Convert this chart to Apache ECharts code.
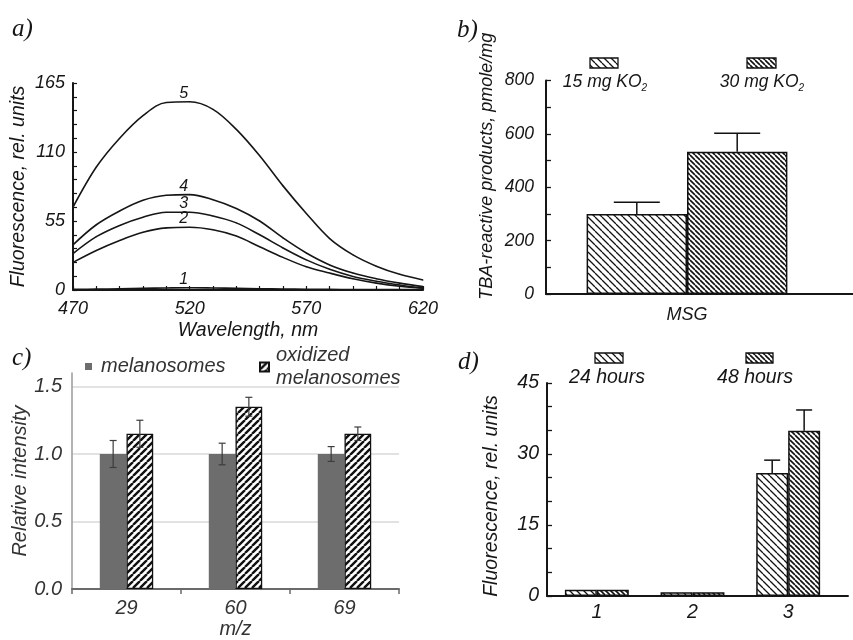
<!DOCTYPE html>
<html><head><meta charset="utf-8">
<script src="https://cdn.jsdelivr.net/npm/echarts@6/dist/echarts.min.js"></script>
<style>html,body{margin:0;padding:0;background:#fff}#c{width:853px;height:640px}</style>
</head><body><div id="c"></div>
<script>
// ---- Panel a: fluorescence spectra ----
const wavelengths = [470,480,490,500,510,520,530,540,550,560,570,580,590,600,610,620];
const curve1 = [0.5,0.7,1.0,1.3,1.6,1.8,1.6,1.3,1.0,0.8,0.6,0.5,0.4,0.3,0.3,0.2];
const curve2 = [22,31.5,39.5,46,49.5,50,48,43,34.5,26,18.5,13.5,9,5.5,3,1.5];
const curve3 = [29,42.5,51.5,58,62,62,59,53.5,44,33.5,24,16.5,10.8,7,4,1.5];
const curve4 = [36,52,63,71.5,75.5,76,72,65,55,41.5,29.5,20,13.5,9,5.5,2.7];
const curve5 = [66,98,121,139,149.5,150,144,128,107,83,61,41,28,19,12.5,8];
const curveNames = ['1','2','3','4','5'];
const curveLabelAt = 520;

// ---- Panel b ----
const msgCategories = ['MSG'];
const ko2_15 = [300];
const ko2_15Err = [44];
const ko2_30 = [533];
const ko2_30Err = [69];

// ---- Panel c ----
const mzCategories = ['29','60','69'];
const melanosomes = [1.0,1.0,1.0];
const melanosomesErr = [0.10,0.08,0.055];
const oxidized = [1.15,1.35,1.15];
const oxidizedErr = [0.10,0.07,0.05];

// ---- Panel d ----
const dCategories = ['1','2','3'];
const hours24 = [1.3,0.8,26.0];
const hours24Err = [0,0,2.7];
const hours48 = [1.3,0.8,34.9];
const hours48Err = [0,0,4.4];

const SANS = "'Liberation Sans', Arial, sans-serif";
const INK = '#161616';

function hatch(size, lw, dir) {
  const cv = document.createElement('canvas');
  cv.width = size; cv.height = size;
  const g = cv.getContext('2d');
  g.fillStyle = '#fff'; g.fillRect(0,0,size,size);
  g.strokeStyle = '#111'; g.lineWidth = lw;
  g.beginPath();
  for (let k=-1;k<=1;k++){
    if (dir === '\\') { g.moveTo(k*size, 0); g.lineTo(k*size+size, size); }
    else { g.moveTo(k*size, size); g.lineTo(k*size+size, 0); }
  }
  g.stroke();
  return {image: cv, repeat: 'repeat'};
}
const patSparse = hatch(7, 1.3, '\\');
const patDense = hatch(5, 1.6, '\\');
const patOx = hatch(7, 2.4, '/');

function errRenderer(offsetFrac, capW, both, color, lw) {
  return function(params, api) {
    const cat = api.value(0), v = api.value(1), e = api.value(2), side = api.value(3);
    if (!e) return null;
    const band = api.size([1, 0])[0];
    const cx = api.coord([cat, v])[0] + side * offsetFrac * band;
    const yBar = api.coord([cat, v])[1];
    const yTop = api.coord([cat, v + e])[1];
    const yBot = both ? api.coord([cat, v - e])[1] : yBar;
    const st = {stroke: color, lineWidth: lw};
    const ch = [
      {type:'line', shape:{x1:cx,y1:yBot,x2:cx,y2:yTop}, style:st},
      {type:'line', shape:{x1:cx-capW/2,y1:yTop,x2:cx+capW/2,y2:yTop}, style:st}
    ];
    if (both) ch.push({type:'line', shape:{x1:cx-capW/2,y1:yBot,x2:cx+capW/2,y2:yBot}, style:st});
    return {type:'group', children: ch};
  };
}

function lineSeries(values, name) {
  return {
    type:'line', name:'curve ' + name, xAxisIndex:0, yAxisIndex:0,
    smooth:0.35, symbol:'circle', symbolSize:1, showSymbol:true,
    itemStyle:{color:INK}, lineStyle:{color:INK, width:1.6},
    label:{show:false},
    data: wavelengths.map((w,i) => w === curveLabelAt
      ? {value:[w, values[i]], label:{show:true, formatter:name, position:'top', distance:0, offset:[-6,0],
          fontSize:16, fontStyle:'italic', fontFamily:SANS, color:INK}}
      : [w, values[i]])
  };
}

const labelStyle = (size, color) => ({fontSize:size, fontStyle:'italic', fontFamily:SANS, color:color||INK});

const option = {
  animation:false,
  backgroundColor:'#fff',
  grid:[
    {left:73, top:83, width:350, height:207},      // 0 a
    {left:546, top:80.5, width:282, height:213.5}, // 1 b bars
    {left:546, top:80.5, width:307, height:213.5}, // 2 b axis
    {left:72, top:373, width:327, height:222},     // 3 c
    {left:549, top:383, width:287, height:213},    // 4 d bars
    {left:547, top:383, width:301, height:213}     // 5 d axis
  ],
  xAxis:[
    {gridIndex:0, type:'value', min:470, max:620, interval:10,
      name:'Wavelength, nm', nameLocation:'middle', nameGap:31, nameTextStyle:labelStyle(19.5),
      axisLine:{lineStyle:{color:INK, width:2}}, axisTick:{inside:true, length:4, lineStyle:{color:INK, width:1.2}},
      axisLabel:Object.assign({margin:10, formatter:v => ((v-470)%50===0 ? String(v) : '')}, labelStyle(18)),
      splitLine:{show:false}},
    {gridIndex:1, type:'category', data:msgCategories,
      axisLine:{show:false}, axisTick:{show:false},
      axisLabel:Object.assign({margin:12}, labelStyle(18))},
    {gridIndex:2, type:'value', min:0, max:1,
      axisLine:{show:true, lineStyle:{color:INK, width:2}}, axisTick:{show:false}, axisLabel:{show:false}, splitLine:{show:false}},
    {gridIndex:3, type:'category', data:mzCategories,
      name:'m/z', nameLocation:'middle', nameGap:30, nameTextStyle:labelStyle(20,'#333'),
      axisLine:{lineStyle:{color:'#6a6a6a', width:2}}, axisTick:{show:true, length:5, lineStyle:{color:'#6a6a6a', width:1.5}},
      axisLabel:Object.assign({margin:9}, labelStyle(20,'#333'))},
    {gridIndex:4, type:'category', data:dCategories,
      axisLine:{show:false}, axisTick:{show:false},
      axisLabel:Object.assign({margin:7}, labelStyle(19.5))},
    {gridIndex:5, type:'value', min:0, max:1,
      axisLine:{show:true, lineStyle:{color:INK, width:2}}, axisTick:{show:false}, axisLabel:{show:false}, splitLine:{show:false}}
  ],
  yAxis:[
    {gridIndex:0, type:'value', min:0, max:165, interval:11,
      name:'Fluorescence, rel. units', nameLocation:'middle', nameGap:44, nameTextStyle:labelStyle(19.5),
      axisLine:{show:true, lineStyle:{color:INK, width:2}}, axisTick:{show:true, inside:true, length:4, lineStyle:{color:INK, width:1.2}},
      axisLabel:Object.assign({margin:8, formatter:v => (v%55===0 ? String(v) : '')}, labelStyle(18)),
      splitLine:{show:false}},
    {gridIndex:1, type:'value', min:0, max:800, interval:100,
      name:'TBA-reactive products, pmole/mg', nameLocation:'middle', nameGap:50,
      nameTextStyle:Object.assign({padding:[0,0,0,42]}, labelStyle(18)),
      axisLine:{show:true, lineStyle:{color:INK, width:2}}, axisTick:{show:true, inside:true, length:5, lineStyle:{color:INK, width:1.3}},
      axisLabel:Object.assign({margin:12, formatter:v => (v%200===0 ? String(v) : '')}, labelStyle(17.5)),
      splitLine:{show:false}},
    {gridIndex:2, type:'value', min:0, max:800, show:false},
    {gridIndex:3, type:'value', min:0, max:1.6, interval:0.5,
      name:'Relative intensity', nameLocation:'middle', nameGap:42, nameTextStyle:labelStyle(20,'#333'),
      axisLine:{show:true, lineStyle:{color:'#9a9a9a', width:1.5}}, axisTick:{show:false},
      axisLabel:Object.assign({margin:10, showMaxLabel:false, formatter:v => v.toFixed(1)}, labelStyle(20,'#333')),
      splitLine:{show:true, showMaxLine:false, showMinLine:false, lineStyle:{color:'#d9d9d9', width:1.5}}},
    {gridIndex:4, type:'value', min:0, max:45, show:false},
    {gridIndex:5, type:'value', min:0, max:45, interval:5,
      name:'Fluorescence, rel. units', nameLocation:'middle', nameGap:45,
      nameTextStyle:Object.assign({padding:[0,13,0,0]}, labelStyle(19.5)),
      axisLine:{show:true, lineStyle:{color:INK, width:2}}, axisTick:{show:true, inside:true, length:5, lineStyle:{color:INK, width:1.3}},
      axisLabel:Object.assign({margin:8, formatter:v => (v%15===0 ? String(v) : '')}, labelStyle(19.5)),
      splitLine:{show:false}}
  ],
  legend:[
    {data:['melanosomes'], left:85, top:355, padding:0, orient:'horizontal', icon:'rect', itemWidth:7, itemHeight:7,
      textStyle:Object.assign({lineHeight:23, padding:[0,0,0,4]}, labelStyle(20,'#333'))},
    {data:['oxidized melanosomes'], left:259, top:344, padding:0, orient:'horizontal', icon:'rect', itemWidth:9, itemHeight:9,
      formatter:() => 'oxidized\nmelanosomes',
      textStyle:Object.assign({lineHeight:23, padding:[0,0,0,2]}, labelStyle(20,'#333'))}
  ],
  series:[
    lineSeries(curve1, curveNames[0]),
    lineSeries(curve2, curveNames[1]),
    lineSeries(curve3, curveNames[2]),
    lineSeries(curve4, curveNames[3]),
    lineSeries(curve5, curveNames[4]),
    // b
    {type:'bar', name:'15 mg KO2', xAxisIndex:1, yAxisIndex:1, data:ko2_15, barWidth:'35.6%', barGap:'0%',
      itemStyle:{color:patSparse, borderColor:'#111', borderWidth:1.5}},
    {type:'bar', name:'30 mg KO2', xAxisIndex:1, yAxisIndex:1, data:ko2_30, barWidth:'35.6%', barGap:'0%',
      itemStyle:{color:patDense, borderColor:'#111', borderWidth:1.5}},
    {type:'custom', name:'b errors', xAxisIndex:1, yAxisIndex:1, z:5,
      renderItem:errRenderer(0.178, 46, false, '#111', 1.5),
      data: ko2_15.map((v,i)=>[i, v, ko2_15Err[i], -1]).concat(ko2_30.map((v,i)=>[i, v, ko2_30Err[i], 1]))},
    // c
    {type:'bar', name:'melanosomes', xAxisIndex:3, yAxisIndex:3, data:melanosomes, barWidth:'24.5%', barGap:'0%',
      itemStyle:{color:'#6d6d6d'}},
    {type:'bar', name:'oxidized melanosomes', xAxisIndex:3, yAxisIndex:3, data:oxidized, barWidth:'24.5%', barGap:'0%',
      itemStyle:{color:patOx, borderColor:'#111', borderWidth:1.3}},
    {type:'custom', name:'c errors', xAxisIndex:3, yAxisIndex:3, z:5,
      renderItem:errRenderer(0.1225, 7, true, '#3c3c3c', 1.2),
      data: melanosomes.map((v,i)=>[i, v, melanosomesErr[i], -1]).concat(oxidized.map((v,i)=>[i, v, oxidizedErr[i], 1]))},
    // d
    {type:'bar', name:'24 hours', xAxisIndex:4, yAxisIndex:4, data:hours24, barWidth:'33.4%', barGap:'0%',
      itemStyle:{color:patSparse, borderColor:'#111', borderWidth:1.5}},
    {type:'bar', name:'48 hours', xAxisIndex:4, yAxisIndex:4, data:hours48, barWidth:'33.4%', barGap:'0%',
      itemStyle:{color:patDense, borderColor:'#111', borderWidth:1.5}},
    {type:'custom', name:'d errors', xAxisIndex:4, yAxisIndex:4, z:5,
      renderItem:errRenderer(0.167, 16, false, '#111', 1.5),
      data: hours24.map((v,i)=>[i, v, hours24Err[i], -1]).concat(hours48.map((v,i)=>[i, v, hours48Err[i], 1]))}
  ],
  graphic:[
    {type:'text', x:12, y:29, style:{text:'a)', font:"italic 25px 'Liberation Serif', serif", fill:INK, verticalAlign:'middle'}},
    {type:'text', x:457, y:30, style:{text:'b)', font:"italic 25px 'Liberation Serif', serif", fill:INK, verticalAlign:'middle'}},
    {type:'text', x:12, y:358, style:{text:'c)', font:"italic 25px 'Liberation Serif', serif", fill:INK, verticalAlign:'middle'}},
    {type:'text', x:458, y:362, style:{text:'d)', font:"italic 25px 'Liberation Serif', serif", fill:INK, verticalAlign:'middle'}},
    // b legend
    {type:'rect', shape:{x:590, y:58, width:28, height:10}, style:{fill:patSparse, stroke:'#111', lineWidth:1.3}},
    {type:'text', x:605, y:82, style:{text:'15 mg KO{s|2}', fontSize:17.5, fontStyle:'italic', fontFamily:SANS, fill:INK,
      align:'center', verticalAlign:'middle', rich:{s:{fontSize:10, fontStyle:'italic', fontFamily:SANS, fill:INK, padding:[12,0,0,0]}}}},
    {type:'rect', shape:{x:747, y:58, width:29, height:10}, style:{fill:patDense, stroke:'#111', lineWidth:1.3}},
    {type:'text', x:762, y:82, style:{text:'30 mg KO{s|2}', fontSize:17.5, fontStyle:'italic', fontFamily:SANS, fill:INK,
      align:'center', verticalAlign:'middle', rich:{s:{fontSize:10, fontStyle:'italic', fontFamily:SANS, fill:INK, padding:[12,0,0,0]}}}},
    // d legend
    {type:'rect', shape:{x:595, y:353, width:28, height:10}, style:{fill:patSparse, stroke:'#111', lineWidth:1.3}},
    {type:'text', x:607, y:378, style:{text:'24 hours', fontSize:19.5, fontStyle:'italic', fontFamily:SANS, fill:INK, align:'center', verticalAlign:'middle'}},
    {type:'rect', shape:{x:746, y:353, width:27, height:10}, style:{fill:patDense, stroke:'#111', lineWidth:1.3}},
    {type:'text', x:755, y:378, style:{text:'48 hours', fontSize:19.5, fontStyle:'italic', fontFamily:SANS, fill:INK, align:'center', verticalAlign:'middle'}}
  ]
};

const chart = echarts.init(document.getElementById('c'), null, {renderer:'canvas'});
chart.setOption(option);
</script>
</body></html>
